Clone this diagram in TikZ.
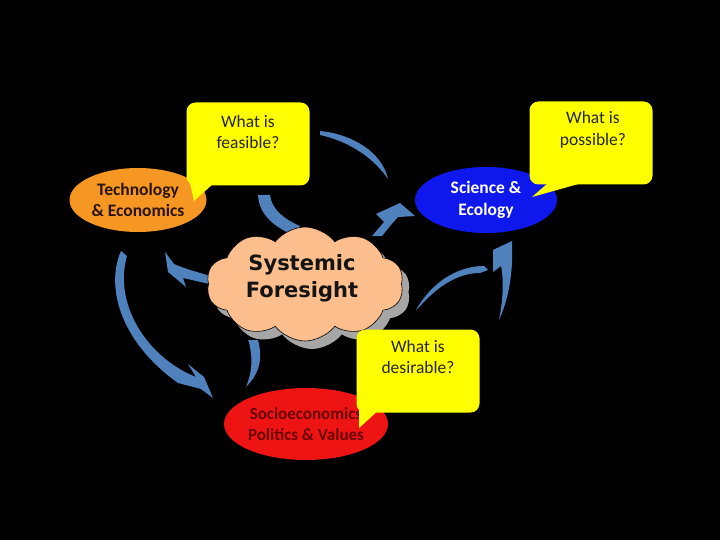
\documentclass[tikz,border=0pt]{standalone}
\usepackage{fontspec}
\setmainfont{Carlito}
\newfontfamily\cloudfont{DejaVu Sans}
\usetikzlibrary{shapes.geometric,shapes.symbols}
\definecolor{arrowblue}{RGB}{79,129,189}
\definecolor{techorange}{RGB}{246,150,35}
\definecolor{sciblue}{RGB}{14,24,236}
\definecolor{socred}{RGB}{238,20,20}
\definecolor{socotext}{RGB}{105,0,0}
\definecolor{techtext}{RGB}{40,20,10}
\definecolor{cloudfill}{RGB}{251,190,140}
\definecolor{bubyellow}{RGB}{255,255,0}
\tikzset{
  bub/.style={fill=bubyellow, rounded corners=9pt, inner sep=0pt, minimum width=123pt, minimum height=83pt},
  qtext/.style={align=center, inner sep=0pt, font=\fontsize{17.5}{21.5}\selectfont, text=black!85},
  oval/.style={ellipse, inner sep=0pt, align=center, minimum width=140pt, minimum height=66pt},
  arr/.style={fill=arrowblue},
  cloudshape/.style={cloud, cloud puffs=10, cloud puff arc=105, aspect=1.75, minimum width=197pt, minimum height=114pt, inner sep=0pt}
}
\begin{document}
\begin{tikzpicture}[x=1pt,y=-1pt]
\fill[black] (0,0) rectangle (720,540);
\useasboundingbox (0,0) rectangle (720,540);

% ---- arrows (behind) ----
% A: top, feasible -> science
\fill[arr] (320,131) .. controls (352,134) and (382,152) .. (388,179)
  .. controls (375,160) and (352,142) .. (320,135) -- cycle;
% B: tech side down behind the cloud, out to science
\fill[arr] (258,195) .. controls (259,215) and (275,228) .. (296,236) -- (300,226)
  .. controls (284,219) and (272,210) .. (270,195) -- cycle;
\fill[arr] (376,214) -- (400,203) -- (415,216) -- (398,217) -- (390,226) -- (382,236)
  -- (372,236) -- (384,222) -- cycle;
% C: cloud -> technology
\fill[arr] (165,252) -- (168,272) -- (186,287) -- (183,278)
  .. controls (192,280) and (200,282) .. (210,284) -- (210,276)
  .. controls (198,272) and (188,270) .. (174,264) -- cycle;
% D: technology -> socioeconomics
\fill[arr] (121,251) .. controls (106,285) and (118,340) .. (178,383)
  -- (201,389) -- (213,398) -- (204,377) -- (188,364) -- (196,377)
  .. controls (148,358) and (113,305) .. (127,256) -- cycle;
% E: cloud bottom -> socioeconomics
\fill[arr] (248,340) -- (258,340) .. controls (264,362) and (257,376) .. (246,387)
  .. controls (252,372) and (253,360) .. (249,342) -- cycle;
% F: cloud -> science
\fill[arr] (416,310) .. controls (430,285) and (455,266) .. (484,266) -- (488,270) -- (480,273)
  .. controls (455,273) and (435,290) .. (422,304) -- cycle;
% G: desirable -> science
\fill[arr] (512,241) -- (512,262) .. controls (511,285) and (506,305) .. (499,320)
  .. controls (503,300) and (504,280) .. (501,266) -- (493,272) -- (493,250) -- cycle;

% ---- ellipses ----
\node[oval, fill=techorange, minimum width=137pt, minimum height=64pt, text=techtext,
  font=\fontsize{17.5}{21.5}\selectfont\bfseries] (tech) at (138,200) {Technology\\\& Economics};
\node[oval, fill=sciblue, minimum width=142pt, minimum height=66pt, text=white,
  font=\fontsize{17.5}{21.5}\selectfont\bfseries] (sci) at (486,200) {Science \&\\Ecology};
\node[oval, fill=socred, minimum width=142pt, minimum height=72pt, text=socotext,
  font=\fontsize{17}{21}\selectfont\bfseries] (soc) at (306,424) {Socioeconomics\\Politics \& Values};

% ---- cloud ----
\node[cloudshape, fill=gray!70] (cloudshadow) at (312,292) {};
\node[cloudshape, fill=cloudfill, draw=black, line width=0.6pt] (cloud) at (305,284) {};
\node[align=center, inner sep=0pt, font=\cloudfont\bfseries\fontsize{21}{27}\selectfont,
  text=black!92] (cloudtext) at (302,278) {Systemic\\Foresight};

% ---- callouts ----
\node[bub] (feasbox) at (248,144) {};
\coordinate (feastip) at (194,201);
\fill[bubyellow] (190,183) -- (feastip) -- (214,183) -- cycle;
\node[qtext] (feasq) at (248,132) {What is\\feasible?};

\node[bub] (possbox) at (591,143) {};
\coordinate (posstip) at (532,197);
\fill[bubyellow] (548,183) -- (posstip) -- (582,183) -- cycle;
\node[qtext] (possq) at (593,130) {What is\\possible?};

\node[bub] (desbox) at (418,371) {};
\coordinate (destip) at (359,428);
\fill[bubyellow] (359,409) -- (destip) -- (380,409) -- cycle;
\node[qtext] (desq) at (418,357) {What is\\desirable?};
\end{tikzpicture}
\end{document}
